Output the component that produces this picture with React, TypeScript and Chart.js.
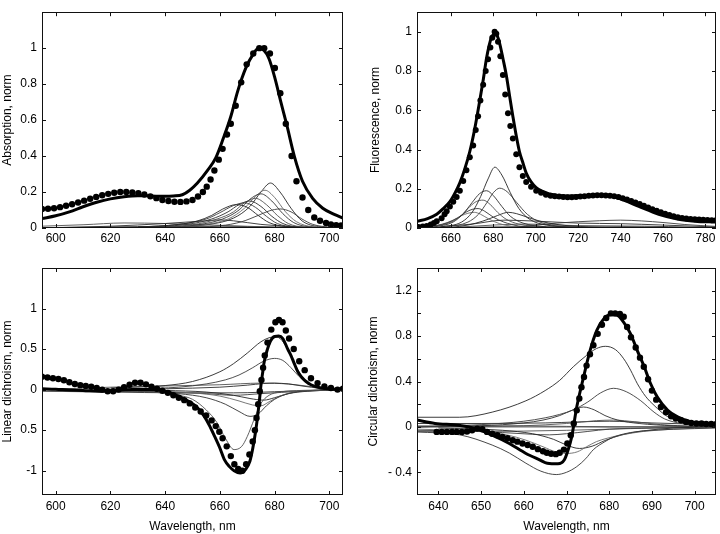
import React, { useEffect, useRef } from 'react';
import { Chart, registerables } from 'chart.js';
Chart.register(...registerables);

type Pt = [number, number];

// ---------- Panel A: Absorption ----------
const absXTicks = [600, 620, 640, 660, 680, 700];
const absXLabels = ['600', '620', '640', '660', '680', '700'];
const absYTicks = [0, 0.2, 0.4, 0.6, 0.8, 1];
const absYLabels = ['0', '0.2', '0.4', '0.6', '0.8', '1'];
const absMeasured: Pt[] = [
  [595, .106], [597.2, .107], [599.4, .11], [601.6, .116], [603.8, .124], [606, .132], [608.2, .142], [610.4, .152],
  [612.6, .163], [614.8, .173], [617, .182], [619.2, .19], [621.4, .196], [623.6, .2], [625.8, .2], [628, .198],
  [630.2, .194], [632.4, .186], [634.6, .176], [636.8, .166], [639, .156], [641.2, .15], [643.4, .146], [645.6, .145],
  [647.8, .148], [650, .156], [652, .175], [653.8, .2], [655.2, .23], [656.6, .27], [658, .32], [659.6, .38],
  [661, .44], [662.6, .52], [664, .58], [665.8, .68], [667.8, .81], [669.8, .91], [672.2, .97], [674.4, 1.0],
  [676.2, 1.0], [678.3, .97], [680.1, .89], [682.1, .75], [684.1, .58], [686.2, .4], [688, .26], [690.2, .17],
  [692.3, .1], [694.5, .058], [696.6, .04], [698.8, .028], [700.6, .02], [702.5, .016], [704.3, .014],
];
const absFit: Pt[] = [
  [595, .052], [600, .068], [605, .09], [610, .118], [615, .143], [620, .162], [625, .174], [630, .18], [635, .178],
  [640, .176], [643, .178], [646.3, .185], [649, .21], [651.8, .25], [655.5, .32], [658.5, .39], [661.3, .5],
  [664, .62], [666.5, .76], [669.5, .89], [672.3, .97], [674.1, 1.0], [676, .99], [678, .94], [680, .84],
  [682.3, .7], [684.5, .57], [687.2, .4], [690.2, .26], [693.9, .165], [697.6, .11], [701.8, .076], [705, .055],
];
const absComponents: Pt[][] = [
  [[630, .005], [645, .02], [652, .04], [657, .07], [661, .105], [666, .13], [670, .115], [674, .07], [678, .03], [684, .008], [695, 0]],
  [[630, .005], [645, .02], [655, .05], [660, .085], [665, .125], [669, .14], [673, .115], [677, .065], [681, .025], [687, .006], [698, 0]],
  [[630, .004], [648, .02], [657, .05], [663, .09], [667, .13], [671, .15], [675, .12], [679, .065], [683, .025], [689, .005], [700, 0]],
  [[635, .004], [650, .018], [659, .05], [665, .09], [669, .14], [673, .165], [677, .13], [681, .07], [685, .025], [691, .005], [702, 0]],
  [[640, .004], [652, .018], [661, .05], [667, .1], [671, .16], [675, .19], [679, .15], [683, .08], [687, .03], [693, .006], [705, 0]],
  [[640, .004], [654, .018], [663, .05], [669, .11], [673, .175], [676.5, .21], [680, .17], [684, .09], [688, .035], [694, .007], [705, .001]],
  [[640, .004], [656, .02], [665, .055], [671, .12], [675, .2], [678.5, .25], [682, .2], [686, .11], [690, .04], [696, .008], [705, .001]],
  [[645, .003], [660, .012], [668, .035], [674, .07], [678, .095], [682, .106], [686, .09], [690, .05], [694, .02], [700, .005], [705, .002]],
  [[595, 0], [620, .01], [640, .025], [655, .04], [660, .045], [665, .04], [675, .02], [690, .005], [705, 0]],
  [[595, .01], [610, .018], [625, .028], [640, .025], [660, .015], [680, .005], [705, 0]],
  [[595, .002], [630, .008], [660, .01], [680, .005], [705, 0]],
];

// ---------- Panel B: Fluorescence ----------
const fluXTicks = [660, 680, 700, 720, 740, 760, 780];
const fluXLabels = ['660', '680', '700', '720', '740', '760', '780'];
const fluYTicks = [0, 0.2, 0.4, 0.6, 0.8, 1];
const fluYLabels = ['0', '0.2', '0.4', '0.6', '0.8', '1'];
const fluMeasured: Pt[] = [
  [644.7, .005], [646.7, .008], [648.6, .01], [650.5, .018], [652, .026], [653.3, .034], [655.6, .05], [657, .07],
  [658, .085], [659.5, .11], [661.1, .134], [662.7, .158], [664.2, .19], [665.8, .24], [667.3, .295], [668.9, .36],
  [670.5, .42], [671.7, .5], [672.8, .57], [673.9, .65], [675.2, .73], [676.4, .8], [677.5, .86], [678.6, .92],
  [679.5, .97], [680.6, 1.0], [681.4, .99], [682.2, .95], [683.3, .875], [684.5, .78], [685.6, .68], [686.9, .585],
  [688, .52], [689.2, .456], [690.8, .376], [692.3, .31], [693.9, .265], [695.5, .235], [697.8, .21], [700.2, .19],
  [702.5, .18], [704.8, .17], [707, .165], [709, .162], [711, .16], [713, .158], [715, .157], [717, .157],
  [719, .158], [721, .16], [723, .162], [725, .164], [727, .166], [729, .167], [731, .167], [733, .166],
  [735, .165], [737, .162], [739, .158], [741, .152], [743, .145], [745, .138], [747, .13], [749, .122],
  [751, .113], [753, .104], [755, .096], [757, .088], [759, .08], [761, .073], [763, .066], [765, .06],
  [767, .055], [769, .051], [771, .048], [773, .046], [775, .044], [777, .043], [779, .042], [781, .041], [783, .04], [785, .04],
];
const fluFit: Pt[] = [
  [644, .034], [649, .048], [653.3, .07], [656.5, .1], [659.5, .134], [662, .18], [664.2, .23], [666.5, .3],
  [668.9, .39], [671.3, .51], [673.6, .65], [675.3, .76], [676.7, .86], [678, .93], [679.1, .97], [680.6, .99],
  [682, .975], [683, .94], [684.6, .86], [686.1, .78], [687.7, .67], [689.2, .57], [690.8, .47], [692.3, .39],
  [694, .33], [695.5, .28], [697.8, .235], [700.2, .206], [703, .188], [706.4, .174], [714.2, .163], [723.6, .166],
  [733, .166], [740.8, .145], [748.6, .11], [758, .07], [767.3, .045], [775, .035], [785, .03],
];
const fluComponents: Pt[][] = [
  [[655, .005], [665, .03], [670, .08], [674, .16], [677.5, .25], [680.7, .31], [684, .27], [688, .18], [692, .1], [697, .045], [705, .015], [720, .003]],
  [[658, .005], [668, .03], [673, .07], [677, .13], [680, .18], [683, .203], [686.5, .185], [691, .13], [696, .07], [702, .03], [712, .008], [725, .002]],
  [[652, .005], [661, .03], [666, .075], [670, .13], [673.5, .175], [676.8, .19], [680, .165], [684, .11], [688, .06], [694, .025], [705, .005]],
  [[650, .005], [660, .03], [665, .065], [669, .11], [672, .135], [675.2, .142], [678.5, .12], [682, .08], [686, .045], [692, .02], [705, .003]],
  [[650, .005], [658, .025], [663, .05], [667, .08], [670, .095], [672.8, .099], [676, .085], [680, .055], [685, .03], [692, .01], [705, .002]],
  [[648, .004], [656, .02], [661, .04], [665, .063], [668, .075], [671, .08], [674, .07], [678, .045], [683, .022], [690, .007], [700, 0]],
  [[660, .003], [668, .015], [675, .035], [680, .055], [684, .072], [687, .08], [691, .073], [696, .055], [702, .035], [710, .018], [725, .005], [740, .001]],
  [[690, .005], [700, .015], [710, .025], [720, .032], [730, .037], [740, .04], [750, .036], [760, .028], [770, .018], [785, .008]],
  [[650, .002], [670, .02], [685, .04], [700, .035], [720, .025], [740, .022], [760, .015], [785, .005]],
  [[660, .002], [680, .015], [695, .02], [720, .012], [750, .006], [785, 0]],
  [[645, 0], [700, .008], [740, .01], [785, .002]],
];

// ---------- Panel C: Linear dichroism ----------
const ldXTicks = [600, 620, 640, 660, 680, 700];
const ldXLabels = ['600', '620', '640', '660', '680', '700'];
const ldYTicks = [-1, -0.5, 0, 0.5, 1];
const ldYLabels = ['-1', '0.5', '0', '0.5', '1'];
const ldMeasured: Pt[] = [
  [595, .16], [597, .15], [599, .14], [601, .13], [603, .115], [605, .09], [607, .07], [609, .055], [611, .045],
  [613, .035], [615, .02], [617, 0], [619, -.02], [621, -.02], [623, 0], [625, .03], [627, .06], [629, .085],
  [631, .085], [633, .065], [635, .035], [637, .01], [639, -.015], [641, -.04], [643, -.07], [645, -.1], [647, -.13],
  [649, -.17], [651, -.22], [653, -.27], [655, -.32], [657, -.38], [658.5, -.45], [659.8, -.52], [661, -.6],
  [662.5, -.7], [664, -.82], [665.3, -.92], [666.7, -.98], [668.2, -1.0], [669.6, -.92], [670.8, -.8], [672, -.64],
  [672.8, -.5], [673.4, -.35], [674, -.18], [674.6, -.02], [675.2, .12], [675.8, .27], [676.4, .42], [677.4, .58],
  [678.8, .74], [680.3, .83], [681.6, .86], [682.9, .83], [684.1, .73], [685.3, .63], [687, .5], [689, .35],
  [691, .24], [693.3, .14], [695.7, .08], [698.2, .04], [700.6, .02], [703, 0], [705, .01],
];
const ldFit: Pt[] = [
  [595, .01], [600, .005], [605, -.005], [610, -.01], [616, -.02], [622, -.01], [628, 0], [634, 0], [638, -.005],
  [641, -.03], [643.3, -.06], [646, -.1], [649.4, -.16], [652, -.23], [654.3, -.33], [656, -.43], [658, -.57],
  [660, -.72], [661.6, -.86], [663.5, -.95], [665.2, -1.0], [667.4, -1.03], [669.5, -.98], [671, -.88], [672, -.73],
  [673, -.53], [673.8, -.33], [674.5, -.12], [675, .05], [675.6, .2], [676.2, .34], [677.4, .5], [678.5, .6],
  [680, .655], [681.5, .66], [683, .63], [684.8, .5], [686, .42], [687.2, .32], [688.5, .22], [690, .15],
  [691.5, .1], [693.3, .06], [697, .02], [701.8, .005], [705, 0],
];
const ldComponents: Pt[][] = [
  [[620, .02], [640, .05], [650, .1], [660, .22], [665, .32], [670, .45], [675, .59], [678, .64], [680, .65], [682, .63], [684.8, .5], [687.2, .33], [689.6, .18], [693, .07], [697, .025], [705, .005]],
  [[630, .01], [645, .03], [655, .07], [662, .12], [667, .18], [672, .27], [676, .35], [680, .385], [683, .36], [686, .27], [689, .16], [692, .08], [696, .03], [705, .005]],
  [[640, .01], [660, .03], [670, .055], [676, .075], [680, .08], [685, .07], [690, .045], [697, .015], [705, .003]],
  [[620, -.01], [635, -.03], [645, -.07], [650, -.12], [655, -.25], [659, -.41], [662, -.6], [665.2, -.74], [668, -.7], [670, -.58], [672.6, -.36], [675, -.17], [678, -.07], [682, -.03], [690, -.01], [705, 0]],
  [[630, -.02], [645, -.05], [655, -.1], [662, -.18], [667, -.27], [671, -.33], [674, -.3], [677, -.2], [680, -.12], [684, -.06], [690, -.02], [705, 0]],
  [[630, -.01], [650, -.04], [660, -.08], [667, -.14], [672, -.19], [675, -.2], [678, -.15], [682, -.08], [687, -.03], [695, -.01], [705, 0]],
  [[640, -.01], [655, -.03], [665, -.07], [671, -.11], [676, -.13], [680, -.1], [685, -.05], [692, -.02], [705, 0]],
  [[595, 0], [620, -.02], [640, -.03], [655, -.05], [665, -.07], [675, -.05], [690, -.02], [705, 0]],
  [[595, -.02], [620, -.03], [645, -.04], [665, -.04], [685, -.02], [705, 0]],
  [[595, 0], [620, .03], [640, .045], [660, .06], [675, .08], [685, .07], [695, .03], [705, .01]],
];

// ---------- Panel D: Circular dichroism ----------
const cdXTicks = [640, 650, 660, 670, 680, 690, 700];
const cdXLabels = ['640', '650', '660', '670', '680', '690', '700'];
const cdYTicks = [-0.4, -0.2, 0, 0.2, 0.4, 0.6, 0.8, 1, 1.2];
const cdYLabels = ['- 0.4', '', '0', '', '0.4', '', '0.8', '', '1.2'];
const cdMeasured: Pt[] = [
  [639.6, -.044], [640.8, -.044], [642, -.044], [643.2, -.044], [644.3, -.044], [645.5, -.044], [646.7, -.04],
  [647.9, -.03], [649.1, -.015], [650.3, -.02], [651.4, -.044], [652.6, -.06], [653.8, -.073], [655, -.088],
  [656.2, -.1], [657.4, -.117], [658.5, -.13], [659.7, -.146], [660.9, -.16], [662.1, -.175], [663.3, -.196],
  [664.5, -.214], [665.4, -.228], [666.4, -.237], [667.5, -.24], [668.4, -.228], [669.4, -.2], [670.2, -.146],
  [671, -.073], [671.7, .03], [672.4, .146], [673, .25], [673.5, .35], [674.1, .44], [674.7, .54], [675.5, .64],
  [676.3, .72], [677.3, .82], [678.3, .9], [679.3, .96], [680.4, 1.0], [681.4, 1.0], [682.5, .995], [683.4, .97],
  [684.2, .88], [685.1, .79], [686.2, .7], [687.2, .61], [688.1, .53], [689.1, .42], [690, .32], [691, .24],
  [692.1, .175], [693.3, .13], [694.5, .094], [695.6, .073], [696.8, .058], [698, .044], [699.2, .035],
  [700.4, .03], [701.6, .03], [702.7, .026], [703.9, .026], [705.1, .026],
];
const cdFit: Pt[] = [
  [635, .06], [639.2, .03], [644.7, .015], [648.7, -.015], [652.6, -.073], [656.6, -.146], [660.5, -.234],
  [663.7, -.29], [665.5, -.32], [668, -.325], [669.5, -.29], [670.4, -.2], [671.2, -.09], [672.4, .175],
  [674, .44], [675.5, .67], [677.1, .85], [678.7, .95], [680.5, .99], [681.8, .985], [683.4, .92], [685, .82],
  [686.6, .67], [688.2, .53], [689.7, .38], [691.3, .26], [693.7, .146], [696, .088], [699.2, .044], [703.1, .03], [705, .025],
];
const cdComponents: Pt[][] = [
  [[635, .085], [645, .085], [652.6, .13], [660.5, .23], [665, .32], [668.4, .41], [671.6, .53], [674.7, .63], [677, .69], [679.1, .71], [681.5, .68], [683.4, .6], [685, .5], [686.6, .38], [688.5, .27], [690.5, .19], [693.7, .09], [698.4, .044], [705, .02]],
  [[635, 0], [650, .02], [660, .05], [665, .08], [668.4, .11], [671.6, .15], [675, .22], [678, .3], [681, .34], [684, .31], [687.4, .23], [690.5, .13], [693, .07], [697, .03], [705, .01]],
  [[635, 0], [650, .01], [660, .035], [664.5, .06], [668.4, .1], [671.5, .15], [674, .175], [676.5, .15], [679, .1], [682, .06], [687, .03], [695, .01], [705, 0]],
  [[640, 0], [660, .01], [670, .03], [677, .055], [681, .06], [686, .045], [692, .02], [700, .005], [705, 0]],
  [[635, -.045], [645, -.07], [652.6, -.16], [656.6, -.23], [660.5, -.32], [664, -.39], [667.6, -.42], [670, -.4], [672.4, -.35], [674.5, -.28], [676.3, -.2], [679, -.13], [681, -.09], [685, -.05], [690, -.03], [700, -.015], [705, -.01]],
  [[635, -.02], [650, -.04], [656, -.07], [660.5, -.117], [664.5, -.175], [667.5, -.22], [670, -.234], [672.5, -.22], [674.7, -.175], [677, -.13], [679.5, -.1], [683, -.07], [688, -.04], [695, -.02], [705, -.005]],
  [[640, -.01], [655, -.03], [662, -.06], [667, -.11], [670, -.16], [673, -.19], [676, -.17], [679, -.12], [683, -.07], [688, -.035], [695, -.01], [705, 0]],
  [[635, -.03], [645, -.035], [655, -.05], [662, -.065], [666, -.07], [670, -.06], [675, -.04], [680, -.02], [690, -.01], [705, 0]],
  [[635, .03], [650, .03], [665, .035], [680, .05], [690, .035], [705, .02]],
  [[635, -.04], [650, -.04], [670, -.03], [690, -.01], [705, 0]],
  [[635, 0], [705, 0]],
  [[635, .01], [660, .01], [680, 0], [705, 0]],
];

// ---------- Styling / layout ----------
const FONT = { family: "'Liberation Sans', Arial, Helvetica, sans-serif", size: 12 };
const THIN_COLORS = ['#262626', '#3c3c3c', '#2e2e2e', '#505050', '#333333', '#6a6a6a'];

interface PanelSpec {
  left: number; top: number; width: number; height: number;
  pad: { left: number; right: number; top: number; bottom: number };
  yAxisWidth: number; xAxisHeight: number;
  xMin: number; xMax: number; yMin: number; yMax: number;
  xTicks: number[]; xLabels: string[]; yTicks: number[]; yLabels: string[];
  yTitle: string; yTitlePad: number; xTitle?: string; xTickPad: number;
  measured: Pt[]; fit: Pt[]; components: Pt[][]; dotRadius: number;
}

const PANELS: PanelSpec[] = [
  {
    left: 0, top: 0, width: 360, height: 250, pad: { left: 0, right: 17, top: 0, bottom: 0 },
    yAxisWidth: 42, xAxisHeight: 22, xMin: 595, xMax: 705, yMin: 0, yMax: 1.2,
    xTicks: absXTicks, xLabels: absXLabels, yTicks: absYTicks, yLabels: absYLabels,
    yTitle: 'Absorption, norm', yTitlePad: 0, xTickPad: 3,
    measured: absMeasured, fit: absFit, components: absComponents, dotRadius: 3.2,
  },
  {
    left: 360, top: 0, width: 360, height: 250, pad: { left: 0, right: 3, top: 1, bottom: 0 },
    yAxisWidth: 57, xAxisHeight: 22, xMin: 644, xMax: 785, yMin: 0, yMax: 1.1,
    xTicks: fluXTicks, xLabels: fluXLabels, yTicks: fluYTicks, yLabels: fluYLabels,
    yTitle: 'Fluorescence, norm', yTitlePad: 8, xTickPad: 3,
    measured: fluMeasured, fit: fluFit, components: fluComponents, dotRadius: 3,
  },
  {
    left: 0, top: 250, width: 360, height: 284, pad: { left: 0, right: 17, top: 18, bottom: 0 },
    yAxisWidth: 42, xAxisHeight: 39, xMin: 595, xMax: 705, yMin: -1.3, yMax: 1.5,
    xTicks: ldXTicks, xLabels: ldXLabels, yTicks: ldYTicks, yLabels: ldYLabels,
    yTitle: 'Linear dichroism, norm', yTitlePad: 0, xTitle: 'Wavelength, nm', xTickPad: 4.5,
    measured: ldMeasured, fit: ldFit, components: ldComponents, dotRadius: 3.2,
  },
  {
    left: 360, top: 250, width: 360, height: 284, pad: { left: 0, right: 3, top: 18, bottom: 0 },
    yAxisWidth: 57, xAxisHeight: 39, xMin: 635, xMax: 705, yMin: -0.6, yMax: 1.4,
    xTicks: cdXTicks, xLabels: cdXLabels, yTicks: cdYTicks, yLabels: cdYLabels,
    yTitle: 'Circular dichroism, norm', yTitlePad: 6, xTitle: 'Wavelength, nm', xTickPad: 4.5,
    measured: cdMeasured, fit: cdFit, components: cdComponents, dotRadius: 3.2,
  },
];

const framePlugin = {
  id: 'frame',
  afterDatasetsDraw(chart: any) {
    const { ctx, chartArea: a, scales } = chart;
    const xs = scales.x, ys = scales.y;
    const L = 4;
    ctx.save();
    ctx.strokeStyle = '#111';
    ctx.lineWidth = 1;
    ctx.beginPath();
    xs.ticks.forEach((t: any) => {
      const p = Math.round(xs.getPixelForValue(t.value)) + 0.5;
      ctx.moveTo(p, a.bottom); ctx.lineTo(p, a.bottom - L);
      ctx.moveTo(p, a.top); ctx.lineTo(p, a.top + L);
    });
    ys.ticks.forEach((t: any) => {
      const p = Math.round(ys.getPixelForValue(t.value)) + 0.5;
      ctx.moveTo(a.left, p); ctx.lineTo(a.left + L, p);
      ctx.moveTo(a.right, p); ctx.lineTo(a.right - L, p);
    });
    ctx.stroke();
    ctx.strokeRect(Math.round(a.left) + 0.5, Math.round(a.top) + 0.5, Math.round(a.right - a.left) - 1, Math.round(a.bottom - a.top) - 1);
    ctx.restore();
  },
};

const toXY = (pts: Pt[]) => pts.map(([x, y]) => ({ x, y }));

function Panel({ spec }: { spec: PanelSpec }) {
  const ref = useRef<HTMLCanvasElement | null>(null);
  useEffect(() => {
    if (!ref.current) return;
    const datasets: any[] = [
      {
        data: toXY(spec.measured), showLine: false, pointRadius: spec.dotRadius,
        pointBackgroundColor: '#000', pointBorderWidth: 0, borderColor: '#000', order: 0,
      },
      {
        data: toXY(spec.fit), borderColor: '#000', borderWidth: 3, pointRadius: 0,
        cubicInterpolationMode: 'monotone', order: 1,
      },
      ...spec.components.map((c, i) => ({
        data: toXY(c), borderColor: THIN_COLORS[i % THIN_COLORS.length], borderWidth: 0.9,
        pointRadius: 0, cubicInterpolationMode: 'monotone', order: 2,
      })),
    ];
    const chart = new Chart(ref.current, {
      type: 'line',
      data: { datasets },
      plugins: [framePlugin],
      options: {
        responsive: false, animation: false, devicePixelRatio: 1, events: [],
        layout: { padding: spec.pad },
        plugins: { legend: { display: false }, tooltip: { enabled: false } },
        scales: {
          x: {
            type: 'linear', min: spec.xMin, max: spec.xMax,
            afterBuildTicks: (s: any) => { s.ticks = spec.xTicks.map((v) => ({ value: v })); },
            afterFit: (s: any) => { s.height = spec.xAxisHeight; },
            grid: { display: false, drawTicks: false },
            border: { display: false },
            ticks: {
              autoSkip: false, maxRotation: 0, minRotation: 0, padding: spec.xTickPad, color: '#000', font: FONT,
              callback: (_v: any, i: number) => spec.xLabels[i],
            },
            title: spec.xTitle
              ? { display: true, text: spec.xTitle, color: '#000', font: FONT, padding: 0 }
              : { display: false },
          },
          y: {
            type: 'linear', min: spec.yMin, max: spec.yMax,
            afterBuildTicks: (s: any) => { s.ticks = spec.yTicks.map((v) => ({ value: v })); },
            afterFit: (s: any) => { s.width = spec.yAxisWidth; },
            grid: { display: false, drawTicks: false },
            border: { display: false },
            ticks: {
              autoSkip: false, padding: 5, color: '#000', font: FONT,
              callback: (_v: any, i: number) => spec.yLabels[i],
            },
            title: { display: true, text: spec.yTitle, color: '#000', font: FONT, padding: spec.yTitlePad },
          },
        },
      } as any,
    });
    return () => chart.destroy();
  }, [spec]);
  return (
    <canvas
      ref={ref}
      width={spec.width}
      height={spec.height}
      style={{ position: 'absolute', left: spec.left, top: spec.top, width: spec.width, height: spec.height, display: 'block' }}
    />
  );
}

export default function App() {
  return (
    <div style={{ position: 'absolute', left: 0, top: 0, width: 720, height: 534, background: '#fff', overflow: 'hidden' }}>
      {PANELS.map((p, i) => <Panel key={i} spec={p} />)}
    </div>
  );
}
